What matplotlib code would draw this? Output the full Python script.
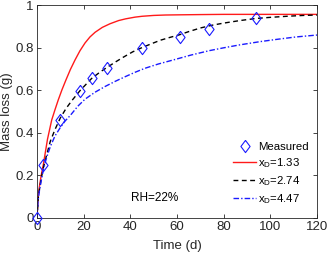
import matplotlib
matplotlib.use("Agg")
import matplotlib.pyplot as plt
from matplotlib.ticker import FuncFormatter

plt.rcParams['font.family'] = ['Liberation Sans', 'DejaVu Sans']
plt.rcParams['mathtext.fontset'] = 'custom'
plt.rcParams['mathtext.rm'] = 'Liberation Sans'

# Measured data
t_meas = [0, 2.7, 9.9, 18.6, 23.6, 29.8, 45, 61.1, 73.9, 94]
m_meas = [0, 0.249, 0.46, 0.595, 0.655, 0.703, 0.80, 0.851, 0.889, 0.938]

# Model curves
t_red = [0, 0.5, 1, 1.8, 2.7, 3.6, 4.5, 5.4, 6.3, 7.7, 9.1, 10.7, 12.4, 14.3, 16.3, 18.4, 20.6, 22.7, 24.9, 28, 31.3, 35, 38, 42, 45, 50, 55, 62, 70, 80, 90, 105, 120]
m_red = [0, 0.10, 0.145, 0.20, 0.25, 0.31, 0.37, 0.415, 0.46, 0.508, 0.554, 0.602, 0.648, 0.697, 0.742, 0.785, 0.822, 0.850, 0.872, 0.895, 0.912, 0.927, 0.935, 0.943, 0.947, 0.951, 0.953, 0.954, 0.955, 0.956, 0.956, 0.956, 0.956]

t_blk = [0, 0.5, 1, 1.8, 2.7, 4, 5.7, 7.7, 10, 12.5, 15, 18.6, 23.4, 27, 30, 34, 37, 41, 45, 49, 53, 57, 61, 65, 70, 75, 80, 87, 94, 100, 107, 114, 120]
m_blk = [0, 0.09, 0.13, 0.185, 0.235, 0.29, 0.36, 0.415, 0.47, 0.515, 0.552, 0.60, 0.655, 0.685, 0.707, 0.735, 0.755, 0.78, 0.80, 0.818, 0.835, 0.848, 0.86, 0.875, 0.892, 0.905, 0.915, 0.927, 0.937, 0.942, 0.947, 0.951, 0.953]

t_blu = [0, 0.5, 1, 1.8, 2.7, 4, 5.7, 7.7, 10, 12, 14.3, 17.5, 20.6, 24.8, 29.1, 33.4, 37.7, 42, 46.3, 52, 58.4, 66, 74, 80, 87, 95.6, 103, 111, 120]
m_blu = [0, 0.085, 0.125, 0.175, 0.225, 0.28, 0.335, 0.385, 0.425, 0.455, 0.482, 0.525, 0.558, 0.59, 0.617, 0.641, 0.663, 0.684, 0.703, 0.723, 0.742, 0.765, 0.786, 0.799, 0.813, 0.828, 0.839, 0.85, 0.859]

labels = ['Measured', r'x$_\mathrm{D}$=1.33', r'x$_\mathrm{D}$=2.74', r'x$_\mathrm{D}$=4.47']
x_ticks = [0, 20, 40, 60, 80, 100, 120]
y_ticks = [0, 0.2, 0.4, 0.6, 0.8, 1]

diamond = [(0, 1), (0.75, 0), (0, -1), (-0.75, 0), (0, 1)]

fig = plt.figure(figsize=(3.27, 2.56), dpi=100)
ax = fig.add_axes([37/327, 1-218/256, 280/327, 213/256])

h0, = ax.plot(t_meas, m_meas, linestyle='none', marker=diamond, markersize=8.8,
              markerfacecolor='none', markeredgecolor=(0.1, 0.1, 1.0), markeredgewidth=0.8,
              zorder=5, clip_on=False)
h1, = ax.plot(t_red, m_red, color=(1, 0.1, 0.1), lw=1.0)
h2, = ax.plot(t_blk, m_blk, color='black', lw=1.0, linestyle=(0, (3.5, 2.5)))
h3, = ax.plot(t_blu, m_blu, color=(0.1, 0.1, 1.0), lw=1.0, linestyle=(0, (4, 1.5, 1, 1.5)))

ax.set_xlim(0, 120)
ax.set_ylim(0, 1)
ax.set_xticks(x_ticks)
ax.set_yticks(y_ticks)
ax.yaxis.set_major_formatter(FuncFormatter(lambda v, p: ('%g' % v)))
ax.tick_params(direction='in', length=3, width=0.6, top=True, right=True,
               labelsize=9.5, colors=(0.15, 0.15, 0.15), pad=2.5)
for s in ax.spines.values():
    s.set_linewidth(0.6)
    s.set_color((0.15, 0.15, 0.15))

ax.set_xlabel('Time (d)', fontsize=9.5, labelpad=4.5, color=(0.15, 0.15, 0.15))
ax.set_ylabel('Mass loss (g)', fontsize=9.5, labelpad=1.5, color=(0.15, 0.15, 0.15))

ax.text(40.3, 0.094, 'RH=22%', fontsize=8.5, va='center', ha='left')

leg = ax.legend([h0, h1, h2, h3], labels, loc='lower right', frameon=False,
                fontsize=8.2, handlelength=2.0, handletextpad=0.2,
                labelspacing=0.35, borderaxespad=0.3, bbox_to_anchor=(1.0, 0.02))

fig.savefig('out.png', dpi=100)
